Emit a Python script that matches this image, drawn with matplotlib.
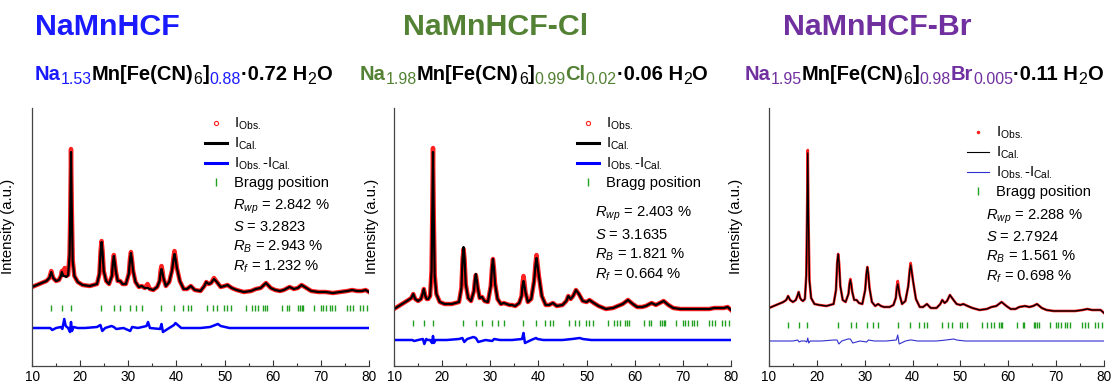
import numpy as np
import matplotlib
matplotlib.use("Agg")
import matplotlib.pyplot as plt
from matplotlib.lines import Line2D
from matplotlib.ticker import MultipleLocator

plt.rcParams['font.family'] = ['Liberation Sans', 'DejaVu Sans']
plt.rcParams['mathtext.fontset'] = 'custom'
plt.rcParams['mathtext.rm'] = 'Liberation Sans'
plt.rcParams['mathtext.it'] = 'Liberation Sans:italic'

W, H = 1111, 384

# 2theta grid (deg)
two_theta = [10, 11, 12, 13, 13.6, 14.0, 14.4, 15.0, 15.6, 16.0, 16.2, 16.5, 16.8, 17.1, 17.5,
             17.8, 17.95, 18.1, 18.25, 18.45, 18.8, 19.5, 20.5, 22, 23.5, 24.0, 24.25, 24.45, 24.65, 24.9,
             25.4, 26.0, 26.6, 26.8, 27.0, 27.2, 27.4, 27.8, 28.3, 28.8, 29.5, 30.1, 30.35, 30.55, 30.75, 31.0, 31.5,
             32.2, 32.8, 33.4, 34.0, 34.5, 35.2, 36.0, 36.5, 36.7, 36.9, 37.1, 37.3, 37.8, 38.5, 39.1,
             39.4, 39.6, 39.8, 40.1, 40.7,
             41.5, 42.2, 43.0, 43.8, 45.0, 45.8, 46.2, 46.7, 47.2, 47.8, 48.4, 49.2, 50.0, 50.6,
             51.5, 52.5, 54.0, 55.5, 56.5, 57.5, 58.6, 59.6, 60.5, 61.5, 62.3, 63.5, 64.4, 65.2,
             66.0, 67.0, 68.0, 69.5, 71.0, 72.5, 74.0, 75.5, 76.5, 77.5, 78.5, 79.3, 80]

cal_hcf = [79, 81, 83, 85, 88, 94, 88, 85, 86, 90, 94, 90, 90, 89, 91,
           110, 150, 214, 160, 105, 90, 84, 81, 80, 82, 92, 114, 124, 114, 95,
           85, 82, 90, 103, 110, 103, 95, 85, 85, 82, 82, 92, 106, 113, 106, 95, 84,
           79, 80, 78, 78, 77, 76, 79, 85, 93, 97, 93, 88, 80, 84, 96,
           107, 112, 107, 98, 85,
           77, 77, 80, 76, 75, 80, 84, 82, 83, 87, 84, 79, 80, 81,
           78, 76, 74, 75, 77, 78, 83, 78, 76, 75, 76, 79, 77, 78,
           81, 78, 75, 74, 74, 73, 74, 75, 76, 75, 75, 76, 74]
obs_hcf = [79, 81, 83, 85, 88, 95, 88, 85, 86, 90, 95, 92, 98, 90, 91,
           112, 152, 217, 162, 106, 90, 84, 81, 80, 82, 92, 115, 125, 115, 95,
           85, 82, 90, 104, 111, 104, 95, 85, 85, 82, 82, 92, 107, 114, 107, 95, 84,
           79, 80, 78, 82, 77, 76, 79, 85, 95, 100, 95, 88, 80, 84, 96,
           109, 115, 109, 98, 85,
           77, 77, 80, 76, 75, 80, 84, 82, 83, 88, 84, 79, 80, 81,
           78, 76, 74, 75, 77, 78, 83, 78, 76, 75, 76, 79, 77, 78,
           81, 78, 75, 74, 74, 73, 74, 75, 76, 75, 75, 76, 74]

cal_cl = [57, 60, 63, 66, 68, 72, 67, 65, 67, 73, 77, 70, 67, 67, 70,
          95, 150, 214, 150, 90, 72, 64, 62, 62, 64, 78, 108, 119, 108, 82,
          68, 65, 75, 86, 92, 86, 78, 68, 69, 65, 64, 80, 98, 107, 98, 82, 67,
          62, 63, 62, 61, 61, 60, 63, 70, 80, 85, 80, 74, 64, 67, 85,
          101, 108, 101, 90, 70,
          61, 61, 63, 60, 61, 65, 70, 67, 70, 76, 72, 65, 64, 66,
          63, 60, 57, 58, 60, 62, 66, 62, 59, 59, 60, 63, 61, 63,
          65, 61, 58, 57, 57, 57, 57, 57, 58, 58, 58, 59, 56]
obs_cl = [57, 60, 63, 66, 68, 72, 67, 65, 67, 73, 77, 70, 67, 67, 70,
          96, 152, 218, 152, 91, 72, 64, 62, 62, 64, 78, 107, 117, 107, 82,
          68, 65, 75, 85, 91, 85, 78, 68, 69, 65, 64, 80, 98, 107, 98, 82, 67,
          62, 63, 62, 61, 61, 60, 63, 70, 83, 90, 83, 74, 64, 67, 85,
          103, 111, 103, 90, 70,
          61, 61, 63, 60, 61, 65, 70, 67, 70, 76, 72, 65, 64, 66,
          63, 60, 57, 58, 60, 62, 66, 62, 59, 59, 60, 63, 61, 63,
          65, 61, 58, 57, 57, 57, 57, 57, 58, 58, 58, 59, 56]

cal_br = [58, 60, 62, 64, 66, 70, 66, 64, 66, 71, 74, 68, 66, 65, 67,
          90, 145, 213, 145, 85, 68, 62, 61, 60, 62, 76, 103, 112, 103, 80,
          66, 64, 72, 81, 86, 81, 74, 66, 66, 63, 62, 76, 92, 99, 92, 78, 64,
          60, 62, 60, 59, 59, 59, 61, 68, 77, 82, 77, 71, 62, 65, 80,
          95, 101, 95, 85, 67,
          59, 59, 62, 58, 58, 62, 66, 63, 65, 71, 67, 62, 61, 62,
          60, 58, 56, 57, 59, 60, 64, 60, 57, 57, 59, 60, 59, 60,
          62, 58, 56, 55, 55, 55, 55, 56, 57, 56, 56, 56, 53]
obs_br = [58, 60, 62, 64, 66, 70, 66, 64, 66, 71, 74, 68, 66, 65, 67,
          91, 147, 216, 147, 86, 68, 62, 61, 60, 62, 76, 103, 112, 103, 80,
          66, 64, 72, 82, 87, 82, 74, 66, 66, 63, 62, 76, 92, 99, 92, 78, 64,
          60, 62, 60, 59, 59, 59, 61, 68, 79, 85, 79, 71, 62, 65, 80,
          96, 103, 96, 85, 67,
          59, 59, 62, 58, 58, 62, 66, 63, 65, 71, 67, 62, 61, 62,
          60, 58, 56, 57, 59, 60, 64, 60, 57, 57, 59, 60, 59, 60,
          62, 58, 56, 55, 55, 55, 55, 56, 57, 56, 56, 56, 53]

# difference curves (offset below the pattern)
diff_theta = [10, 12, 13.8, 14.2, 15, 16.0, 16.3, 16.7, 17.0, 17.5, 17.9, 18.1, 18.3, 18.6,
              19.5, 21, 23.5, 24.2, 24.6, 25.2, 26.5, 27.0, 27.5, 29, 30.4, 30.8, 32, 33.8,
              34.1, 34.5, 36.6, 36.9, 37.2, 38.5, 39.5, 39.8, 41, 43, 45, 47, 48.6, 49.2,
              51, 55, 60, 65, 70, 75, 80]
diff_hcf = [38, 38, 38, 36, 38, 39, 37, 47, 40, 38, 34, 44, 35, 39,
            38, 38, 39, 41, 35, 38, 40, 39, 37, 38, 35, 39, 38, 40,
            44, 38, 37, 42, 34, 38, 41, 43, 38, 38, 38, 39, 42, 40,
            38, 38, 38, 38, 38, 38, 38]
diff_cl = [26, 26, 26, 25, 26, 27, 22, 27, 26, 26, 23, 30, 23, 26,
           26, 26, 27, 28, 24, 27, 29, 28, 24, 26, 25, 27, 26, 26,
           26, 26, 27, 33, 23, 26, 28, 27, 26, 26, 26, 27, 28, 27,
           26, 26, 26, 26, 26, 26, 26]
diff_br = [25, 25, 25, 25, 25, 26, 24, 25, 25, 25, 24, 28, 23, 25,
           25, 25, 26, 26, 22, 25, 27, 27, 23, 25, 24, 26, 25, 25,
           25, 25, 26, 31, 22, 25, 26, 26, 25, 25, 25, 26, 27, 26,
           25, 25, 25, 25, 25, 25, 25]

bragg_pos = [14.02, 16.24, 18.04, 24.42, 27.05, 28.23, 30.45, 31.69, 32.87, 36.89, 39.46,
             41.40, 42.30, 42.99, 46.25, 47.50, 48.33, 49.92, 50.41, 51.31, 54.43, 55.61,
             56.30, 56.99, 58.03, 58.38, 58.73, 61.85, 63.02, 63.37, 65.31, 65.66, 66.00,
             66.35, 68.64, 69.95, 70.37, 71.06, 71.90, 72.24, 72.93, 75.36, 76.05, 76.75,
             78.13, 78.82, 79.52]
bragg_level = [58.5, 43.5, 41]

samples = ['NaMnHCF', 'NaMnHCF-Cl', 'NaMnHCF-Br']
rwp = ['2.842', '2.403', '2.288']
gof = ['3.2823', '3.1635', '2.7924']
rb = ['2.943', '1.821', '1.561']
rf = ['1.232', '0.664', '0.698']

blue = '#1a1aff'
green = '#548235'
purple = '#7030a0'
k = 'black'
sample_colors = [blue, green, purple]

formulas = [
    [('Na', blue, 0), ('1.53', blue, 1), ('Mn[Fe(CN)', k, 0), ('6', k, 1), (']', k, 0),
     ('0.88', blue, 1), ('·0.72 H', k, 0), ('2', k, 1), ('O', k, 0)],
    [('Na', green, 0), ('1.98', green, 1), ('Mn[Fe(CN)', k, 0), ('6', k, 1), (']', k, 0),
     ('0.99', green, 1), ('Cl', green, 0), ('0.02', green, 1), ('·0.06 H', k, 0),
     ('2', k, 1), ('O', k, 0)],
    [('Na', purple, 0), ('1.95', purple, 1), ('Mn[Fe(CN)', k, 0), ('6', k, 1), (']', k, 0),
     ('0.98', purple, 1), ('Br', purple, 0), ('0.005', purple, 1), ('·0.11 H', k, 0),
     ('2', k, 1), ('O', k, 0)],
]

cals = [cal_hcf, cal_cl, cal_br]
obss = [obs_hcf, obs_cl, obs_br]
diffs = [diff_hcf, diff_cl, diff_br]

fig = plt.figure(figsize=(W / 100, H / 100), dpi=100)

ax_px = [(32, 337), (394, 337), (769, 335)]
title_x = [35, 403, 783]
formula_x = [35, 360, 745]
legend_anchor = [(0.513, 0.97), (0.543, 0.97), (0.591, 0.935)]
stats_x = [0.596, 0.596, 0.648]
stats_y = [[207, 227, 247, 267], [214, 235, 255, 275], [217, 237, 257, 277]]
ylab_x = [-0.05, -0.045, -0.078]
lw_cal = [1.6, 1.6, 1.0]
lw_obs = [3.2, 3.2, 1.9]
lw_diff = [1.8, 1.8, 0.8]
diff_col = ['#0000ff', '#0000ff', '#3030d0']

for i in range(3):
    left, width = ax_px[i]
    ax = fig.add_axes([left / W, 1 - 366 / H, width / W, 258 / H])
    ax.plot(two_theta, obss[i], color='#ff2020', lw=lw_obs[i], solid_joinstyle='round')
    ax.plot(two_theta, cals[i], color='black', lw=lw_cal[i])
    ax.plot(diff_theta, diffs[i], color=diff_col[i], lw=lw_diff[i])
    ax.plot(bragg_pos, [bragg_level[i]] * len(bragg_pos), ls='none', marker='|',
            ms=5, mew=1.0, color='#22a022')
    ax.set_xlim(10, 80)
    ax.set_ylim(0, 258)
    ax.set_yticks([])
    ax.xaxis.set_major_locator(MultipleLocator(10))
    ax.xaxis.set_minor_locator(MultipleLocator(5))
    ax.tick_params(axis='x', which='major', direction='in', length=4, width=0.8,
                   labelsize=9.8, pad=3, colors='#333333', labelcolor='black')
    ax.tick_params(axis='x', which='minor', direction='in', length=2.5, width=0.8,
                   colors='#333333')
    for s in ['top', 'right']:
        ax.spines[s].set_visible(False)
    for s in ['left', 'bottom']:
        ax.spines[s].set_color('#444444')
        ax.spines[s].set_linewidth(0.9)
    ax.set_ylabel('Intensity (a.u.)', fontsize=10.8)
    ax.yaxis.set_label_coords(ylab_x[i], 0.54)

    if i < 2:
        h_obs = Line2D([], [], ls='none', marker='o', ms=3, mfc='none', mec='#ff2020', mew=0.8)
    else:
        h_obs = Line2D([], [], ls='none', marker='o', ms=1.5, color='#ff2020')
    handles = [h_obs,
               Line2D([], [], color='black', lw=2.2 if i < 2 else 0.8),
               Line2D([], [], color='#0000ff' if i < 2 else '#3030d0', lw=2.2 if i < 2 else 0.8),
               Line2D([], [], ls='none', marker='|', ms=6, mew=1, color='#22a022')]
    labels = [r'I$_{\mathrm{Obs.}}$', r'I$_{\mathrm{Cal.}}$',
              r'$\mathrm{I}_{\mathrm{Obs.}}\text{-I}_{\mathrm{Cal.}}$', 'Bragg position']
    ax.legend(handles, labels, loc='upper left', bbox_to_anchor=legend_anchor[i],
              frameon=False, fontsize=10.6, borderpad=0, borderaxespad=0,
              handlelength=1.5, handletextpad=0.5, labelspacing=0.25)

    stats = [r'$R_{wp}$ = %s %%' % rwp[i], r'$S$ = %s' % gof[i],
             r'$R_{B}$ = %s %%' % rb[i], r'$R_{f}$ = %s %%' % rf[i]]
    for s, yy in zip(stats, stats_y[i]):
        ax.text(stats_x[i], (366 - yy) / 258, s, transform=ax.transAxes,
                fontsize=10.6, va='center', ha='left')

    fig.text(title_x[i] / W, 1 - 35 / H, samples[i], color=sample_colors[i],
             fontsize=21.9, fontweight='bold', va='baseline', ha='left')

renderer = fig.canvas.get_renderer()
for i in range(3):
    x = formula_x[i]
    for txt, col, sub in formulas[i]:
        y = 80 + (4 if sub else 0)
        t = fig.text(x / W, 1 - y / H, txt, color=col,
                     fontsize=11.5 if sub else 14.5,
                     fontweight='normal' if sub else 'bold',
                     va='baseline', ha='left')
        x += t.get_window_extent(renderer).width

fig.savefig('out.png', dpi=100)
